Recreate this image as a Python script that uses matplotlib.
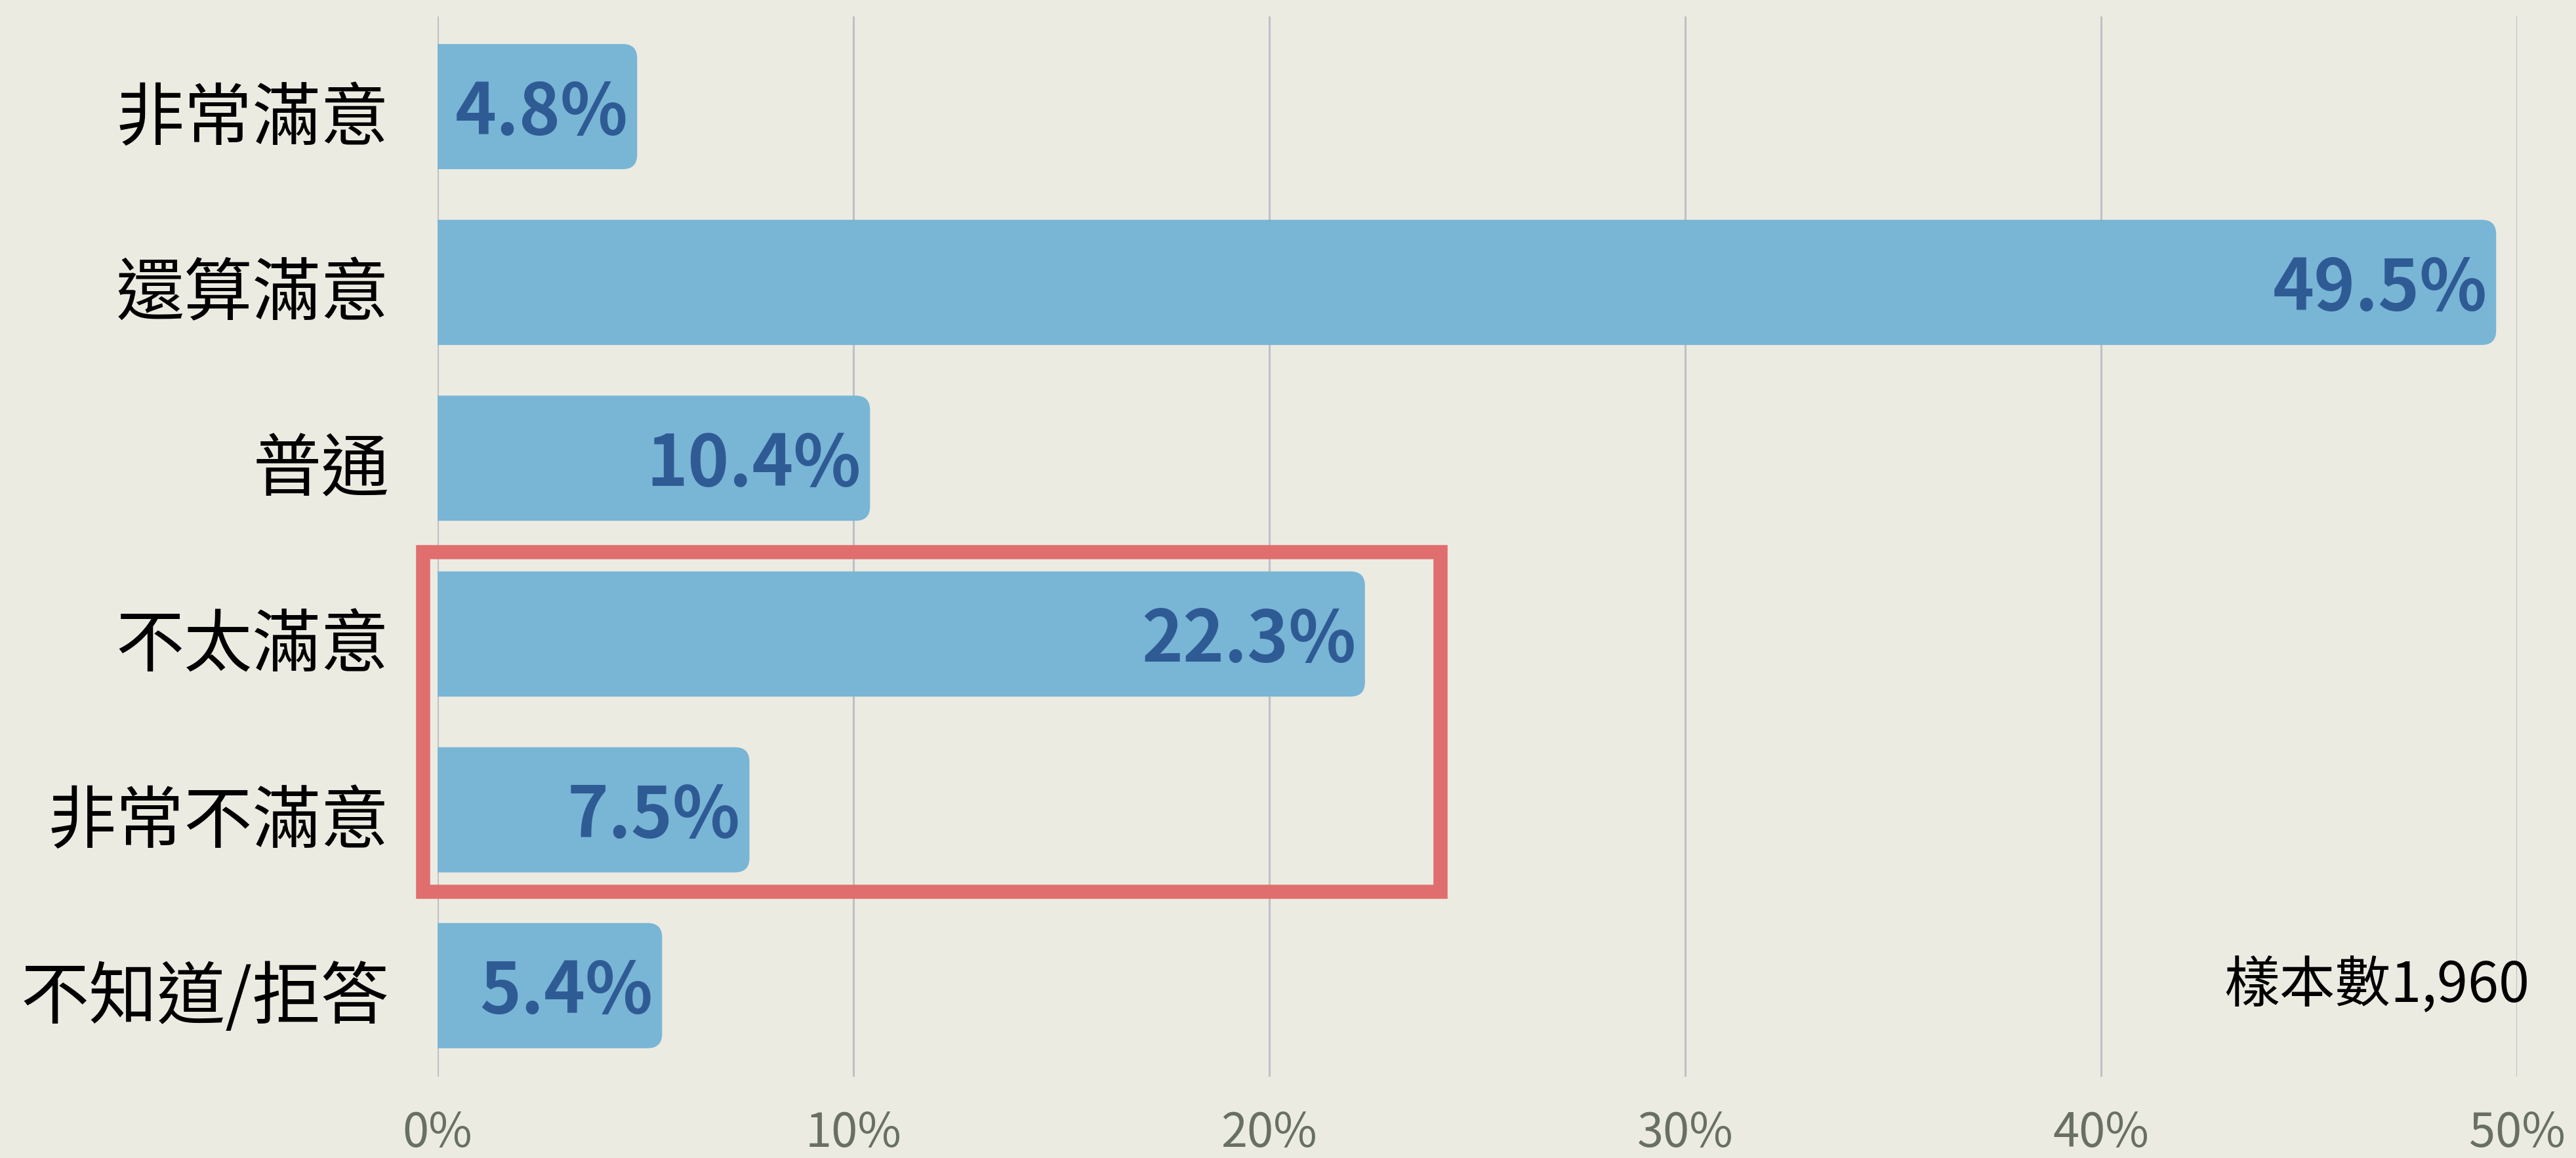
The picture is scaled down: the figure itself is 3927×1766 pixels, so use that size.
import matplotlib
matplotlib.use("Agg")
import matplotlib.pyplot as plt
from matplotlib.patches import FancyBboxPatch, Rectangle
from matplotlib.transforms import ScaledTranslation

plt.rcParams['font.family'] = ['Noto Sans CJK TC', 'DejaVu Sans']

# data
categories = ["非常滿意", "還算滿意", "普通", "不太滿意", "非常不滿意", "不知道/拒答"]
values = [4.8, 49.5, 10.4, 22.3, 7.5, 5.4]
xticks = [0, 10, 20, 30, 40, 50]
xtick_labels = ["0%", "10%", "20%", "30%", "40%", "50%"]
sample_note = "樣本數1,960"
highlight = ["不太滿意", "非常不滿意"]

BG = "#ecebe1"
BAR = "#79b5d5"
LABEL = "#2f5b95"
GRID = "#bfc0c6"
TICK = "#687062"
BOX = "#e06e6e"

fig = plt.figure(figsize=(39.27, 17.66), dpi=100, facecolor=BG)
ax = fig.add_axes([0.16985, 0.07022, 0.80723, 0.91562])
ax.set_facecolor(BG)

ypos = list(range(len(categories)))
bar_h = 0.712
bars = ax.barh(ypos, values, height=bar_h, color=BAR, zorder=2)

# swap the plain bars for ones with rounded right corners
rx, ry = 0.35, 0.082
for b in bars:
    x0, y0 = b.get_x(), b.get_y()
    w, h = b.get_width(), b.get_height()
    b.set_visible(False)
    p = FancyBboxPatch((x0 - 2 * rx, y0), w + 2 * rx, h,
                       boxstyle=f"round,pad=0,rounding_size={rx}",
                       mutation_aspect=ry / rx,
                       facecolor=BAR, edgecolor="none", zorder=2)
    ax.add_patch(p)

for y, v in zip(ypos, values):
    ax.annotate(f"{v}%", (v, y), xytext=(-10, -8), textcoords="offset points",
                ha="right", va="center", fontsize=77, fontweight="bold",
                color=LABEL, zorder=4)

ax.set_xlim(0, 50)
ax.set_ylim(5.518, -0.513)

ax.set_xticks(xticks)
ax.set_xticklabels(xtick_labels, fontsize=52, color=TICK)
ax.set_yticks(ypos)
ax.set_yticklabels(categories, fontsize=75, color="black")
ax.tick_params(axis="x", length=0, pad=36)
ax.tick_params(axis="y", length=0, pad=53)
for lab in ax.get_yticklabels():
    lab.set_transform(lab.get_transform() + ScaledTranslation(0, -6 / 72, fig.dpi_scale_trans))

ax.grid(axis="x", color=GRID, linewidth=2.2, zorder=0)
ax.set_axisbelow(True)
for s in ax.spines.values():
    s.set_visible(False)

# red frame round the dissatisfied group
i0 = categories.index(highlight[0])
i1 = categories.index(highlight[-1])
ax.add_patch(Rectangle((-0.35, i0 - 0.464), 24.12 + 0.35, (i1 - i0) + 0.464 + 0.467,
                       fill=False, edgecolor=BOX, linewidth=15.5, clip_on=False,
                       joinstyle="miter", zorder=5))

ax.text(50.3, len(categories) - 1, sample_note, ha="right", va="center",
        fontsize=61, color="black", zorder=4)

fig.savefig("out.png", dpi=100, facecolor=BG)
